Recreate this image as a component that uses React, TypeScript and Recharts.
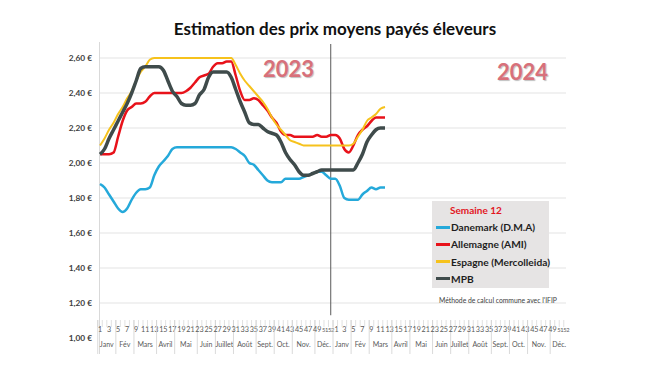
import { LineChart, Line, XAxis, YAxis, CartesianGrid, ReferenceLine } from 'recharts';

// Weekly average producer prices (€/kg), 2023 week 1 through 2024 week 12
const YEARS = ['2023', '2024'];
const MONTHS = ['Janv', 'Fév', 'Mars', 'Avril', 'Mai', 'Juin', 'Juillet', 'Août', 'Sept.', 'Oct.', 'Nov.', 'Déc.'];
const MONTH_WEEKS = [4, 4, 5, 4, 5, 4, 4, 5, 4, 4, 5, 4];
const Y_TICKS = [1.0, 1.2, 1.4, 1.6, 1.8, 2.0, 2.2, 2.4, 2.6];
const GRID_VALUES = [1.2, 1.4, 1.6, 1.8, 2.0, 2.2, 2.4, 2.6];

const DANEMARK = [
  1.88, 1.86, 1.82, 1.78, 1.74, 1.72, 1.74, 1.79, 1.83, 1.85, 1.85, 1.86, 1.93, 1.98, 2.01, 2.04,
  2.08, 2.09, 2.09, 2.09, 2.09, 2.09, 2.09, 2.09, 2.09, 2.09, 2.09, 2.09, 2.09, 2.09, 2.08, 2.06,
  2.04, 2.0, 1.99, 1.96, 1.93, 1.9, 1.89, 1.89, 1.89, 1.91, 1.91, 1.91, 1.91, 1.92, 1.93, 1.94,
  1.95, 1.95, 1.93, 1.91,
  1.91, 1.87, 1.8, 1.79, 1.79, 1.79, 1.82, 1.84, 1.86, 1.85, 1.86, 1.86,
];
const ALLEMAGNE = [
  2.05, 2.05, 2.05, 2.06, 2.15, 2.24, 2.3, 2.32, 2.34, 2.34, 2.35, 2.38, 2.4, 2.4, 2.4, 2.4,
  2.4, 2.4, 2.4, 2.41, 2.43, 2.46, 2.49, 2.5, 2.51, 2.55, 2.57, 2.57, 2.58, 2.58, 2.5, 2.41,
  2.36, 2.36, 2.37, 2.36, 2.33, 2.3, 2.26, 2.23, 2.18, 2.16, 2.16, 2.15, 2.15, 2.15, 2.15, 2.15,
  2.16, 2.15, 2.15, 2.16,
  2.16, 2.14, 2.08, 2.06, 2.1, 2.16, 2.19, 2.21, 2.24, 2.26, 2.26, 2.26,
];
const ESPAGNE = [
  2.1, 2.14, 2.19, 2.23, 2.28, 2.32, 2.37, 2.41, 2.47, 2.52, 2.55, 2.59, 2.6, 2.6, 2.6, 2.6,
  2.6, 2.6, 2.6, 2.6, 2.6, 2.6, 2.6, 2.6, 2.6, 2.6, 2.6, 2.6, 2.6, 2.6, 2.56, 2.51,
  2.47, 2.44, 2.41, 2.38, 2.35, 2.31, 2.26, 2.22, 2.19, 2.16, 2.13, 2.12, 2.11, 2.1, 2.1, 2.1,
  2.1, 2.1, 2.1, 2.1,
  2.1, 2.1, 2.1, 2.1, 2.11, 2.15, 2.19, 2.24, 2.26, 2.28, 2.31, 2.32,
];
const MPB = [
  2.05, 2.08, 2.14, 2.19, 2.24, 2.29, 2.34, 2.4, 2.47, 2.54, 2.55, 2.55, 2.55, 2.55, 2.53, 2.47,
  2.41, 2.38, 2.34, 2.33, 2.33, 2.34, 2.39, 2.42, 2.49, 2.52, 2.52, 2.52, 2.52, 2.49, 2.42, 2.35,
  2.29, 2.23, 2.22, 2.22, 2.2, 2.18, 2.17, 2.16, 2.12, 2.06, 2.02, 1.99, 1.95, 1.93, 1.93, 1.94,
  1.95, 1.96, 1.96, 1.96,
  1.96, 1.96, 1.96, 1.96, 1.96, 2.0, 2.05, 2.12, 2.16, 2.19, 2.2, 2.2,
];

const SERIES = [
  { key: 'danemark', name: 'Danemark (D.M.A)', color: '#25A9DA', width: 2.5, values: DANEMARK },
  { key: 'allemagne', name: 'Allemagne (AMI)', color: '#E8121A', width: 2.5, values: ALLEMAGNE },
  { key: 'espagne', name: 'Espagne (Mercolleida)', color: '#F6C21C', width: 2, values: ESPAGNE },
  { key: 'mpb', name: 'MPB', color: '#3F4B4B', width: 3.5, values: MPB },
];

const data = YEARS.flatMap((year, yi) =>
  Array.from({ length: 52 }, (_, w) => {
    const idx = yi * 52 + w;
    const row: Record<string, string | number | null> = { key: `${year}-${w + 1}`, week: w + 1 };
    SERIES.forEach((s) => {
      row[s.key] = s.values[idx] ?? null;
    });
    return row;
  }),
);

const CHART_W = 650;
const CHART_H = 366;
const MARGIN = { top: 58, right: 84, bottom: 0, left: 0 };
const Y_AXIS_W = 100;
const X_AXIS_H = 28;
const PLOT_W = CHART_W - MARGIN.left - MARGIN.right - Y_AXIS_W;
const BAND = PLOT_W / data.length;
const AXIS_Y = CHART_H - X_AXIS_H;
const FONT = 'Lato, "Open Sans", sans-serif';

// week number -> month index, for weeks that start a month
const MONTH_START: Record<number, number> = {};
MONTH_WEEKS.reduce((week, n, m) => {
  MONTH_START[week] = m;
  return week + n;
}, 1);

const fmtEuro = (v: number) => `${v.toFixed(2).replace('.', ',')} €`;

function WeekTick(props: any) {
  const { x, index } = props;
  const week = (index % 52) + 1;
  const left = x - BAND / 2;
  const month = MONTH_START[week];
  const top = AXIS_Y - 18;
  // 51 and 52 sit side by side, squeezed a little so they stay readable
  const small = week === 51 || week === 52;
  let dx = 0;
  if (week === 51) dx = -1.3;
  if (week === 52) dx = 0.2;
  if (week === 1 && index > 0) dx = 1.4;
  return (
    <g>
      <line x1={left} x2={left} y1={top} y2={top + 7} stroke="#D9D9D9" strokeWidth={0.8} />
      {month !== undefined && (
        <>
          <line x1={left} x2={left} y1={top} y2={AXIS_Y + 16} stroke="#D0D0D0" strokeWidth={0.8} />
          <text
            x={left + (MONTH_WEEKS[month] * BAND) / 2}
            y={AXIS_Y + 9}
            textAnchor="middle"
            fontSize={7}
            fill="#595959"
            fontFamily={FONT}
          >
            {MONTHS[month]}
          </text>
        </>
      )}
      {(week % 2 === 1 || week === 52) && (
        <text
          x={x + dx}
          y={AXIS_Y - 6}
          textAnchor="middle"
          fontSize={small ? 5.8 : 7.2}
          letterSpacing={small ? -0.5 : 0}
          fill="#595959"
          fontFamily={FONT}
        >
          {week}
        </text>
      )}
    </g>
  );
}

function Legend() {
  return (
    <div
      style={{
        position: 'absolute',
        left: 432,
        top: 201,
        width: 117,
        height: 87,
        background: '#E6E4E4',
        fontFamily: FONT,
        fontWeight: 700,
        fontSize: 10.2,
        color: '#1E1E1E',
      }}
    >
      <div style={{ position: 'absolute', left: 18, top: 3, color: '#E2161E', fontSize: 10 }}>Semaine 12</div>
      {SERIES.map((s, i) => (
        <div
          key={s.key}
          style={{ position: 'absolute', left: 4, top: 20 + i * 17.3, display: 'flex', alignItems: 'center', whiteSpace: 'nowrap' }}
        >
          <span style={{ display: 'inline-block', width: 14, height: 3, background: s.color, marginRight: 1 }} />
          <span>{s.name}</span>
        </div>
      ))}
    </div>
  );
}

export default function App() {
  return (
    <div style={{ position: 'fixed', left: 0, top: 0, width: CHART_W, height: CHART_H, background: '#fff' }}>
      <div
        style={{
          position: 'absolute',
          left: 0,
          width: CHART_W,
          top: 18,
          textAlign: 'center',
          paddingLeft: 20,
          boxSizing: 'border-box',
          fontFamily: FONT,
          fontWeight: 700,
          fontSize: 17,
          color: '#111',
        }}
      >
        Estimation des prix moyens payés éleveurs
      </div>
      <div style={{ position: 'absolute', left: 99, top: 42, width: 1, height: 312, background: '#D9D9D9' }} />
      <LineChart width={CHART_W} height={CHART_H} data={data} margin={MARGIN}>
        <CartesianGrid vertical={false} horizontalValues={GRID_VALUES} stroke="#E3E3E3" />
        <XAxis
          dataKey="key"
          type="category"
          interval={0}
          height={X_AXIS_H}
          axisLine={false}
          tickLine={false}
          tick={<WeekTick />}
        />
        <YAxis
          type="number"
          domain={[1, 2.6]}
          ticks={Y_TICKS}
          width={Y_AXIS_W}
          axisLine={false}
          tickLine={false}
          tickSize={0}
          tickMargin={8}
          tickFormatter={fmtEuro}
          tick={{ fontSize: 8.3, fontWeight: 700, fill: '#404040', fontFamily: FONT }}
        />
        <ReferenceLine
          segment={[
            { x: '2023-52', y: 1.13 },
            { x: '2023-52', y: 2.68 },
          ]}
          ifOverflow="visible"
          stroke="#595959"
          strokeWidth={1}
        />
        {SERIES.map((s) => (
          <Line
            key={s.key}
            dataKey={s.key}
            name={s.name}
            type="monotone"
            stroke={s.color}
            strokeWidth={s.width}
            dot={false}
            activeDot={false}
            isAnimationActive={false}
          />
        ))}
      </LineChart>
      <div
        style={{
          position: 'absolute',
          left: 263,
          top: 55,
          fontFamily: FONT,
          fontWeight: 700,
          fontSize: 22,
          color: '#D8707A',
          textShadow: '1px 1px 1px rgba(0,0,0,0.25)',
        }}
      >
        2023
      </div>
      <div
        style={{
          position: 'absolute',
          left: 497,
          top: 58,
          fontFamily: FONT,
          fontWeight: 700,
          fontSize: 22,
          color: '#D8707A',
          textShadow: '1px 1px 1px rgba(0,0,0,0.25)',
        }}
      >
        2024
      </div>
      <Legend />
      <div style={{ position: 'absolute', left: 439, top: 296, fontFamily: FONT, fontSize: 6.8, color: '#404040', whiteSpace: 'nowrap' }}>
        Méthode de calcul commune avec l'IFIP
      </div>
    </div>
  );
}
